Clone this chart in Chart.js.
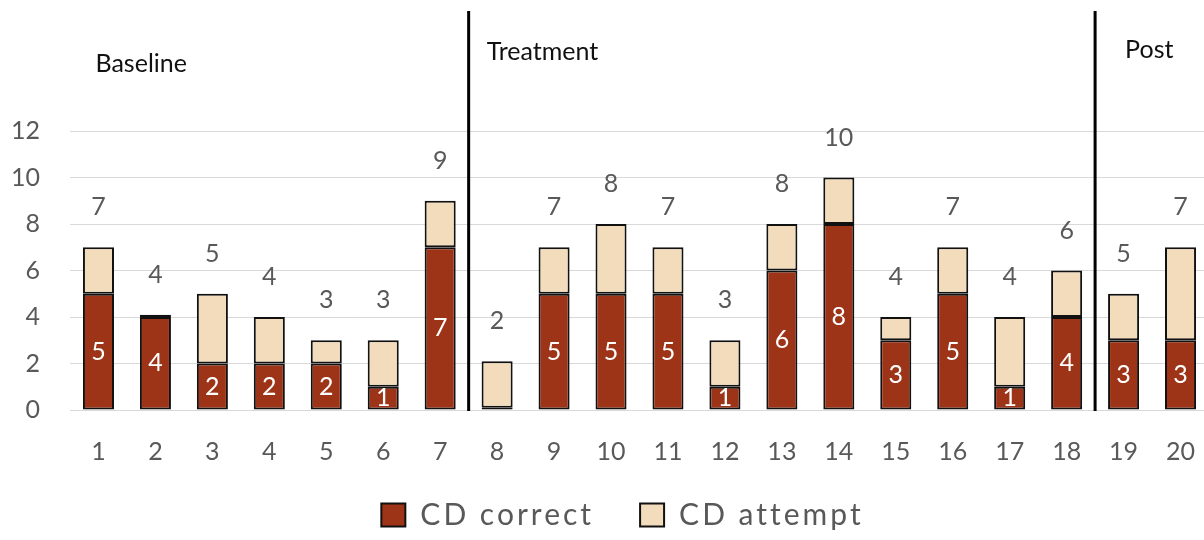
<!DOCTYPE html>
<html>
<head>
<meta charset="utf-8">
<script src="https://cdn.jsdelivr.net/npm/chart.js@4.4.1/dist/chart.umd.min.js"></script>
<style>
  html, body { margin: 0; padding: 0; background: #fff; overflow: hidden; }
  #wrap { width: 1209px; height: 540px; }
</style>
</head>
<body>
<div id="wrap"><canvas id="cdChart" width="1209" height="540"></canvas></div>
<script>
// sessions on the x axis
const sessions = ['1','2','3','4','5','6','7','8','9','10','11','12','13','14','15','16','17','18','19','20'];
// stacked values per session
const cdCorrect = [5, 4, 2, 2, 2, 1, 7, 0.1, 5, 5, 5, 1, 6, 8, 3, 5, 1, 4, 3, 3];
const cdAttempt = [2, 0.1, 3, 2, 1, 2, 2, 2, 2, 3, 2, 2, 2, 2, 1, 2, 3, 2, 2, 4];
// totals printed above each bar
const totalLabels = [7, 4, 5, 4, 3, 3, 9, 2, 7, 8, 7, 3, 8, 10, 4, 7, 4, 6, 5, 7];
const yTicks = [0, 2, 4, 6, 8, 10, 12];
// phases: name and index of first session
const phaseNames = ['Baseline', 'Treatment', 'Post'];
const phaseStarts = [0, 7, 18];

const FONT = 'Lato, "Open Sans", sans-serif';
const GREY = '#595959';

// numbers inside the dark bars + totals above
const barLabels = {
  id: 'barLabels',
  afterDatasetsDraw(chart) {
    const ctx = chart.ctx;
    const correctMeta = chart.getDatasetMeta(0);
    const attemptMeta = chart.getDatasetMeta(1);
    ctx.save();
    ctx.font = '25px ' + FONT;
    ctx.textAlign = 'center';
    ctx.textBaseline = 'middle';
    correctMeta.data.forEach((bar, i) => {
      if (cdCorrect[i] < 1) return;
      ctx.fillStyle = '#ffffff';
      ctx.fillText(String(cdCorrect[i]), bar.x, (bar.y + bar.base) / 2);
    });
    attemptMeta.data.forEach((bar, i) => {
      ctx.fillStyle = GREY;
      ctx.fillText(String(totalLabels[i]), bar.x, bar.y - 40);
    });
    ctx.restore();
  }
};

// phase change lines and phase names
const phaseLines = {
  id: 'phaseLines',
  afterDatasetsDraw(chart) {
    const ctx = chart.ctx;
    const x = chart.scales.x;
    const bottom = chart.chartArea.bottom;
    const nameOffset = [-3, 18, 30];
    const nameY = [64, 52, 50];
    ctx.save();
    ctx.strokeStyle = '#000';
    ctx.lineWidth = 3;
    phaseStarts.forEach((start, p) => {
      let left;
      if (p > 0) {
        const lx = (x.getPixelForValue(start - 1) + x.getPixelForValue(start)) / 2;
        ctx.beginPath();
        ctx.moveTo(lx, 11);
        ctx.lineTo(lx, bottom + 1);
        ctx.stroke();
        left = lx;
      } else {
        left = x.getPixelForValue(start);
      }
      ctx.fillStyle = '#111';
      ctx.font = '25px ' + FONT;
      ctx.textAlign = 'left';
      ctx.textBaseline = 'middle';
      ctx.fillText(phaseNames[p], left + nameOffset[p], nameY[p]);
    });
    ctx.restore();
  }
};

const chart = new Chart(document.getElementById('cdChart'), {
  type: 'bar',
  data: {
    labels: sessions,
    datasets: [
      {
        label: 'CD correct',
        data: cdCorrect,
        backgroundColor: '#9E3417',
        borderColor: '#111',
        borderWidth: 2,
        borderSkipped: false
      },
      {
        label: 'CD attempt',
        data: cdAttempt,
        backgroundColor: '#F2DCBB',
        borderColor: '#111',
        borderWidth: 2,
        borderSkipped: false
      }
    ]
  },
  options: {
    responsive: false,
    animation: false,
    devicePixelRatio: 1,
    layout: { autoPadding: false, padding: { top: 131, left: 0, right: 0, bottom: 0 } },
    datasets: { bar: { categoryPercentage: 1, barPercentage: 0.545 } },
    scales: {
      x: {
        stacked: true,
        grid: { display: false, drawTicks: false },
        border: { display: false },
        ticks: { color: GREY, font: { family: FONT, size: 25 }, padding: 27, maxRotation: 0 },
        afterFit: s => { s.height = 44; s.paddingLeft = 0; s.paddingRight = 0; }
      },
      y: {
        stacked: true,
        min: 0,
        max: 12,
        afterBuildTicks: s => { s.ticks = yTicks.map(v => ({ value: v })); },
        grid: { color: '#d9d9d9', lineWidth: 1, drawTicks: false },
        border: { display: false },
        ticks: { color: GREY, font: { family: FONT, size: 25 }, padding: 30 },
        afterFit: s => { s.width = 70; }
      }
    },
    plugins: {
      legend: {
        position: 'bottom',
        labels: {
          color: GREY,
          font: { family: FONT, size: 30 },
          boxWidth: 24,
          boxHeight: 23,
          padding: 46
        }
      },
      tooltip: { enabled: false }
    }
  },
  plugins: [barLabels, phaseLines]
});

// x labels sit below the (shortened) axis box, so do not clip them
chart.scales.x._computeLabelArea = () => undefined;

// the legend text in the original is loosely spaced
const lg = chart.legend;
const fit0 = lg.fit;
const draw0 = lg.draw;
lg.fit = function () {
  this.ctx.letterSpacing = '3px';
  fit0.apply(this, arguments);
  this.ctx.letterSpacing = '0px';
};
lg.draw = function () {
  const c = this.ctx;
  c.save();
  c.letterSpacing = '3px';
  c.translate(18, 0);
  draw0.apply(this, arguments);
  c.restore();
};
chart.update('none');
</script>
</body>
</html>
